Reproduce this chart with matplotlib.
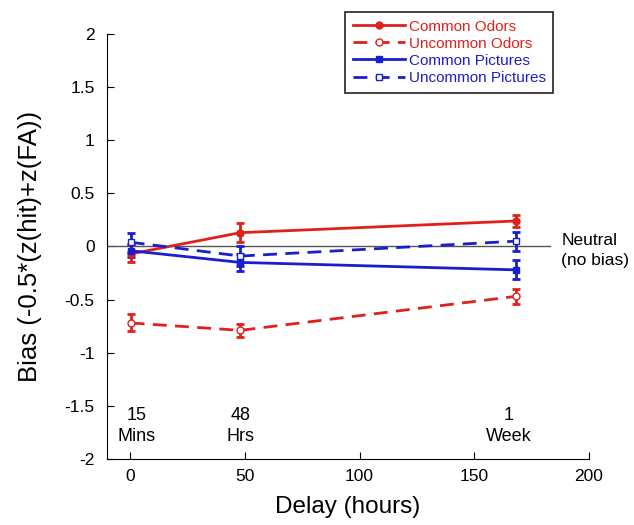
import matplotlib
matplotlib.use("Agg")
import matplotlib.pyplot as plt
from matplotlib.lines import Line2D

plt.rcParams['font.family'] = ['Liberation Sans', 'DejaVu Sans']

# delay in hours: 15 min, 48 h, 1 week
delay = [0.25, 48, 168]

common_odors = [-0.07, 0.13, 0.24]
common_odors_err = [0.08, 0.09, 0.06]
uncommon_odors = [-0.72, -0.79, -0.47]
uncommon_odors_err = [0.08, 0.06, 0.07]
common_pics = [-0.04, -0.15, -0.22]
common_pics_err = [0.06, 0.08, 0.09]
uncommon_pics = [0.04, -0.09, 0.05]
uncommon_pics_err = [0.09, 0.09, 0.09]

series_names = ["Common Odors", "Uncommon Odors", "Common Pictures", "Uncommon Pictures"]
delay_labels = ["15\nMins", "48\nHrs", "1\nWeek"]
delay_label_x = [3, 48, 165]

red = "#e0201b"
blue = "#1a1fcc"
dash = (0, (5, 3))

fig = plt.figure(figsize=(6.34, 5.25), dpi=100)
ax = fig.add_axes([0.169, 0.126, 0.76, 0.809])

ax.axhline(0, xmin=0, xmax=(183 + 10) / 210, color="#555555", lw=1)

kw = dict(capsize=3, elinewidth=2, capthick=2, lw=2, markersize=5)
ax.errorbar(delay, common_odors, yerr=common_odors_err, color=red,
            marker="o", ls="-", **kw)
ax.errorbar(delay, uncommon_odors, yerr=uncommon_odors_err, color=red,
            marker="o", mfc="white", ls=dash, **kw)
ax.errorbar(delay, common_pics, yerr=common_pics_err, color=blue,
            marker="s", ls="-", **kw)
ax.errorbar(delay, uncommon_pics, yerr=uncommon_pics_err, color=blue,
            marker="s", mfc="white", ls=dash, **kw)

for x, t in zip(delay_label_x, delay_labels):
    ax.text(x, -1.69, t, ha="center", va="center", fontsize=13, linespacing=1.25)

ax.text(188, -0.04, "Neutral\n(no bias)", ha="left", va="center", fontsize=12.5,
        linespacing=1.4, clip_on=False)

ax.set_xlim(-10, 200)
ax.set_ylim(-2, 2)
ax.set_xticks([0, 50, 100, 150, 200])
ax.set_yticks([-2, -1.5, -1, -0.5, 0, 0.5, 1, 1.5, 2])
ax.set_yticklabels(["-2", "-1.5", "-1", "-0.5", "0", "0.5", "1", "1.5", "2"])
ax.tick_params(direction="in", labelsize=12.5, length=5)
ax.tick_params(axis="x", pad=7)
ax.tick_params(axis="y", pad=9)
ax.spines["top"].set_visible(False)
ax.spines["right"].set_visible(False)
ax.set_xlabel("Delay (hours)", fontsize=17.5, labelpad=9)
ax.set_ylabel("Bias (-0.5*(z(hit)+z(FA))", fontsize=18.5, labelpad=16)

handles = [
    Line2D([], [], color=red, lw=2, marker="o", markersize=5),
    Line2D([], [], color=red, lw=2, ls=dash, marker="o", mfc="white", markersize=5),
    Line2D([], [], color=blue, lw=2, marker="s", markersize=5),
    Line2D([], [], color=blue, lw=2, ls=dash, marker="s", mfc="white", markersize=5),
]
leg = ax.legend(handles, series_names, loc="upper right",
                bbox_to_anchor=(0.873, 0.977), bbox_transform=fig.transFigure,
                fontsize=11, fancybox=False, edgecolor="#222222",
                handlelength=3.4, borderpad=0.5, labelspacing=0.2,
                handletextpad=0.25, borderaxespad=0, framealpha=1)
leg.get_frame().set_linewidth(1.2)
for txt, c in zip(leg.get_texts(), [red, red, blue, blue]):
    txt.set_color(c)

fig.savefig("out.png", dpi=100)
